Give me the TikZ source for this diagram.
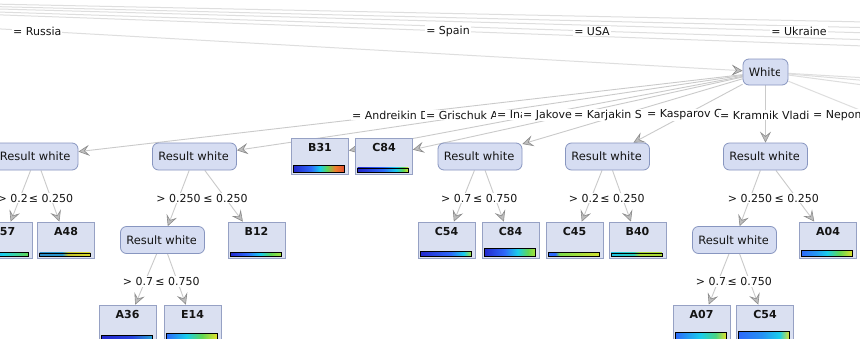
\documentclass[tikz,border=0pt]{standalone}
\usepackage{fontspec}
\setmainfont{DejaVu Sans}
\usetikzlibrary{arrows.meta,calc,backgrounds}

\definecolor{nodefill}{RGB}{214,221,242}
\definecolor{nodeline}{RGB}{136,150,192}
\definecolor{leaffill}{RGB}{218,224,241}
\definecolor{leafline}{RGB}{150,161,196}
\definecolor{edgeline}{RGB}{202,202,202}
\definecolor{faintline}{RGB}{222,222,222}
\definecolor{tipline}{RGB}{140,140,140}
\definecolor{tipfill}{RGB}{190,190,190}
\definecolor{ink}{RGB}{20,20,20}

% heat-map colours for the distribution bars
\definecolor{hDeep}{RGB}{35,40,205}
\definecolor{hBlue}{RGB}{45,105,250}
\definecolor{hCyan}{RGB}{25,205,235}
\definecolor{hGreen}{RGB}{95,215,85}
\definecolor{hLime}{RGB}{165,225,60}
\definecolor{hYellow}{RGB}{225,225,45}
\definecolor{hOrange}{RGB}{240,125,45}
\definecolor{hRed}{RGB}{225,80,50}
\definecolor{hTeal}{RGB}{45,140,200}
\definecolor{hOlive}{RGB}{195,195,45}

% stops live between 25bp and 75bp (the part that TikZ stretches over the bar)
\pgfdeclarehorizontalshading{barB31}{100bp}{color(0bp)=(hDeep); color(25bp)=(hDeep); color(42bp)=(hBlue); color(51bp)=(hCyan); color(58bp)=(hGreen); color(66bp)=(hOrange); color(75bp)=(hRed); color(100bp)=(hRed)}
\pgfdeclarehorizontalshading{barCa}{100bp}{color(0bp)=(hDeep); color(25bp)=(hDeep); color(50bp)=(hBlue); color(63bp)=(hCyan); color(70bp)=(hGreen); color(75bp)=(hYellow); color(100bp)=(hYellow)}
\pgfdeclarehorizontalshading{barCs}{100bp}{color(0bp)=(hBlue); color(25bp)=(hBlue); color(50bp)=(hCyan); color(75bp)=(hGreen); color(100bp)=(hGreen)}
\pgfdeclarehorizontalshading{barAf}{100bp}{color(0bp)=(hTeal); color(25bp)=(hTeal); color(47bp)=(hTeal!80!hCyan); color(53bp)=(hOlive); color(75bp)=(hYellow!80!hOlive); color(100bp)=(hOlive)}
\pgfdeclarehorizontalshading{barBt}{100bp}{color(0bp)=(hDeep); color(25bp)=(hDeep); color(42bp)=(hBlue); color(55bp)=(hCyan); color(65bp)=(hGreen); color(75bp)=(hLime); color(100bp)=(hLime)}
\pgfdeclarehorizontalshading{barCf}{100bp}{color(0bp)=(hDeep); color(25bp)=(hDeep); color(55bp)=(hBlue); color(68bp)=(hCyan); color(75bp)=(hLime); color(100bp)=(hLime)}
\pgfdeclarehorizontalshading{barCe}{100bp}{color(0bp)=(hDeep); color(25bp)=(hDeep); color(45bp)=(hBlue); color(58bp)=(hCyan); color(68bp)=(hGreen); color(75bp)=(hLime); color(100bp)=(hLime)}
\pgfdeclarehorizontalshading{barCq}{100bp}{color(0bp)=(hBlue); color(25bp)=(hBlue); color(32bp)=(hBlue); color(36bp)=(hGreen!60!hLime); color(75bp)=(hYellow!70!hLime); color(100bp)=(hLime)}
\pgfdeclarehorizontalshading{barBf}{100bp}{color(0bp)=(hCyan!80!hTeal); color(25bp)=(hCyan!80!hTeal); color(47bp)=(hCyan!70!hGreen); color(53bp)=(hLime!80!hOlive); color(75bp)=(hLime!80!hOlive); color(100bp)=(hLime)}
\pgfdeclarehorizontalshading{barAz}{100bp}{color(0bp)=(hDeep); color(25bp)=(hBlue); color(40bp)=(hBlue!50!hCyan); color(50bp)=(hCyan); color(62bp)=(hGreen); color(75bp)=(hYellow); color(100bp)=(hYellow)}
\pgfdeclarehorizontalshading{barAd}{100bp}{color(0bp)=(hDeep); color(25bp)=(hDeep); color(55bp)=(hDeep!60!hBlue); color(75bp)=(hTeal!70!hCyan); color(100bp)=(hTeal)}
\pgfdeclarehorizontalshading{barEf}{100bp}{color(0bp)=(hBlue); color(25bp)=(hBlue); color(45bp)=(hCyan); color(60bp)=(hGreen); color(75bp)=(hYellow); color(100bp)=(hYellow)}
\pgfdeclarehorizontalshading{barAs}{100bp}{color(0bp)=(hBlue); color(25bp)=(hBlue); color(50bp)=(hCyan); color(65bp)=(hGreen!70!hCyan); color(75bp)=(hYellow); color(100bp)=(hYellow)}
\pgfdeclarehorizontalshading{barCl}{100bp}{color(0bp)=(hBlue); color(25bp)=(hBlue); color(48bp)=(hBlue!60!hCyan); color(65bp)=(hCyan); color(75bp)=(hYellow); color(100bp)=(hYellow)}

\tikzset{
  decision/.style={draw=nodeline, fill=nodefill, rounded corners=6pt, line width=0.8pt,
    minimum width=84pt, minimum height=27pt, inner sep=0pt},
  leafbox/.style={draw=leafline, fill=leaffill, line width=0.8pt,
    minimum width=57pt, minimum height=36pt, inner sep=0pt},
  leaflabel/.style={font=\fontsize{11}{13}\selectfont\bfseries, text=ink, inner sep=0pt},
  boxlabel/.style={font=\fontsize{11.5}{13}\selectfont, text=ink, inner sep=0pt},
  lbl/.style={fill=white, inner sep=1pt, text=ink},
  tip/.style={-{Stealth[length=11pt, width=11pt, inset=4.5pt, color=tipline, fill=tipfill, line width=0.6pt]}},
  branch/.style={draw=edgeline, line width=0.9pt, tip},
  faint/.style={draw=faintline, line width=1pt},
}

% leaf: name, x, y, class, bar height, bar shading
\newcommand\mkleaf[6]{%
  \node[leafbox] (#1) at (#2,#3) {};
  \node[leaflabel] at ($(#1.north)+(0pt,-10pt)$) {#4};
  \shade[shading=#6, draw=black, line width=0.7pt]
    ($(#1.south west)+(2.5pt,2pt)$) rectangle ($(#1.south east)+(-4.5pt,{2pt+#5pt})$);
}
% caption of a rounded decision box, cut off at the right edge
\newcommand\mkcaption[2]{%
  \begin{scope}
    \clip ($(#1.south west)+(1pt,0pt)$) rectangle ($(#1.north east)+(-9pt,0pt)$);
    \node[boxlabel, anchor=west] at ($(#1.west)+(6pt,0pt)$) {#2};
  \end{scope}
}

\begin{document}
\begin{tikzpicture}[x=1pt, y=-1pt, font=\fontsize{11}{13}\selectfont]
\useasboundingbox (0,0) rectangle (860,338);
\clip (0,0) rectangle (860,338);

% parent and siblings lying outside the frame
\coordinate (root) at (-691,-10);
\coordinate (spain) at (1587,72);
\coordinate (usa) at (1875,72);
\coordinate (ukraine) at (2289,72);
\coordinate (farA) at (2700,72);
\coordinate (farE) at (3300,72);
\coordinate (nepo) at (975,156.5);
\coordinate (farB) at (1400,156.5);
\coordinate (farC) at (1750,156.5);
\coordinate (farD) at (2200,156.5);

% decision nodes
\node[decision, minimum width=45pt, minimum height=26pt] (white) at (765.5,72) {};
\node[decision] (r1) at (36,156.5) {};
\node[decision] (r2) at (194.5,156.5) {};
\node[decision] (r3) at (480,156.5) {};
\node[decision] (r4) at (607.5,156.5) {};
\node[decision] (r5) at (765.5,156.5) {};
\node[decision] (r7) at (162.5,240) {};
\node[decision] (r6) at (734.5,240) {};

\mkcaption{white}{White}
\mkcaption{r1}{Result white}
\mkcaption{r2}{Result white}
\mkcaption{r3}{Result white}
\mkcaption{r4}{Result white}
\mkcaption{r5}{Result white}
\mkcaption{r6}{Result white}
\mkcaption{r7}{Result white}

% leaves
\mkleaf{bthreeone}{320}{156}{B31}{7}{barB31}
\mkleaf{ceightfour}{384}{156}{C84}{4.5}{barCa}
\mkleaf{cfiveseven}{3.5}{240}{C57}{4}{barCs}
\mkleaf{afoureight}{66}{240}{A48}{3.5}{barAf}
\mkleaf{bonetwo}{256.5}{240}{B12}{4}{barBt}
\mkleaf{cfivefour}{446.5}{240}{C54}{5}{barCf}
\mkleaf{ceightfourb}{510.5}{240}{C84}{8}{barCe}
\mkleaf{cfourfive}{574.5}{240}{C45}{4}{barCq}
\mkleaf{bfourzero}{637.5}{240}{B40}{3.5}{barBf}
\mkleaf{azerofour}{828}{240}{A04}{6}{barAz}
\mkleaf{athreesix}{127.5}{323}{A36}{4}{barAd}
\mkleaf{eonefour}{192.5}{323}{E14}{6}{barEf}
\mkleaf{azeroseven}{701.5}{323}{A07}{7}{barAs}
\mkleaf{cfivefourb}{765}{323}{C54}{8}{barCl}

% connectors, kept behind the boxes
\begin{scope}[on background layer]
  \clip (0,0) rectangle (860,338);
  \fill[white] (0,0) rectangle (860,338);
  \draw[faint] (root) -- (farE);
  \draw[faint] (root) -- (farA);
  \draw[faint] (root) -- (ukraine);
  \draw[faint] (root) -- (usa);
  \draw[faint] (root) -- (spain);
  \draw[faint, tip] (root) -- (white);

  \draw[faint] (white) -- (nepo);
  \draw[faint] (white) -- (farB);
  \draw[faint] (white) -- (farC);
  \draw[faint] (white) -- (farD);
  \draw[branch] (white) -- (r1);
  \draw[branch] (white) -- (r2);
  \draw[branch] (white) -- (bthreeone);
  \draw[branch] (white) -- (ceightfour);
  \draw[branch] (white) -- (r3);
  \draw[branch] (white) -- (r4);
  \draw[branch] (white) -- (r5);

  \draw[branch] (r1) -- (cfiveseven);
  \draw[branch] (r1) -- (afoureight);
  \draw[branch] (r2) -- (r7);
  \draw[branch] (r2) -- (bonetwo);
  \draw[branch] (r7) -- (athreesix);
  \draw[branch] (r7) -- (eonefour);
  \draw[branch] (r3) -- (cfivefour);
  \draw[branch] (r3) -- (ceightfourb);
  \draw[branch] (r4) -- (cfourfive);
  \draw[branch] (r4) -- (bfourzero);
  \draw[branch] (r5) -- (r6);
  \draw[branch] (r5) -- (azerofour);
  \draw[branch] (r6) -- (azeroseven);
  \draw[branch] (r6) -- (cfivefourb);
\end{scope}

% country labels on the upper branches
\path (root) -- (white.center) node[lbl, midway] (lrussia) {= Russia};
\path (root) -- (spain) node[lbl, midway] (lspain) {= Spain};
\path (root) -- (usa) node[lbl, midway] (lusa) {= USA};
\path (root) -- (ukraine) node[lbl, midway] (lukraine) {= Ukraine};

% player labels, each one drawn over the tail of the one before
\node[lbl, anchor=west] (pa) at (351,115) {= Andreikin D};
\node[lbl, anchor=west] (pb) at (425,115) {= Grischuk A};
\node[lbl, anchor=west] (pc) at (496,115) {= Ina};
\node[lbl, anchor=west] (pd) at (522,115) {= Jakove};
\node[lbl, anchor=west] (pe) at (573,115) {= Karjakin S};
\node[lbl, anchor=west] (pf) at (646,115) {= Kasparov G};
\node[lbl, anchor=west] (pg) at (719,115) {= Kramnik Vladi};
\node[lbl, anchor=west] (ph) at (812,115) {= Nepomni};

% split labels, centred on the branch between box centres
\path (r1.center) -- (cfiveseven.center) node[lbl, midway] {> 0.250};
\path (r1.center) -- (afoureight.center) node[lbl, midway] {≤ 0.250};
\path (r2.center) -- (r7.center) node[lbl, midway] {> 0.250};
\path (r2.center) -- (bonetwo.center) node[lbl, midway] {≤ 0.250};
\path (r7.center) -- (athreesix.center) node[lbl, midway] {> 0.750};
\path (r7.center) -- (eonefour.center) node[lbl, midway] {≤ 0.750};
\path (r3.center) -- (cfivefour.center) node[lbl, midway] {> 0.750};
\path (r3.center) -- (ceightfourb.center) node[lbl, midway] {≤ 0.750};
\path (r4.center) -- (cfourfive.center) node[lbl, midway] {> 0.250};
\path (r4.center) -- (bfourzero.center) node[lbl, midway] {≤ 0.250};
\path (r5.center) -- (r6.center) node[lbl, midway] {> 0.250};
\path (r5.center) -- (azerofour.center) node[lbl, midway] {≤ 0.250};
\path (r6.center) -- (azeroseven.center) node[lbl, midway] {> 0.750};
\path (r6.center) -- (cfivefourb.center) node[lbl, midway] {≤ 0.750};
\end{tikzpicture}
\end{document}
